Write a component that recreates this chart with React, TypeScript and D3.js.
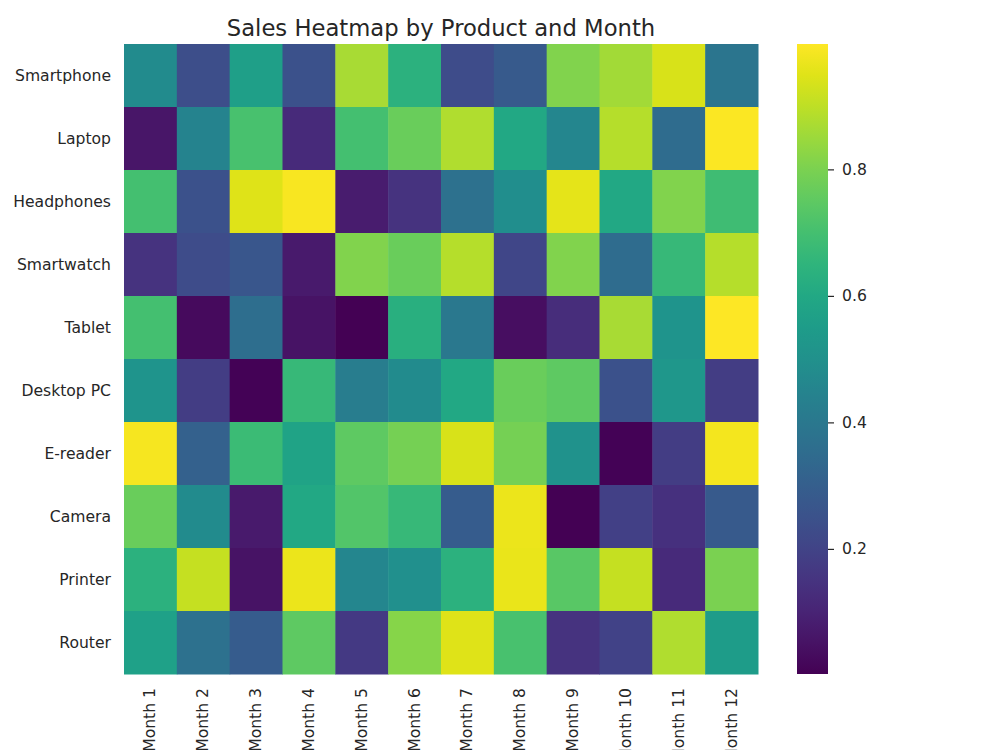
import React, { useEffect, useRef } from "react";
import * as d3 from "d3";

const products = [
  "Smartphone", "Laptop", "Headphones", "Smartwatch", "Tablet",
  "Desktop PC", "E-reader", "Camera", "Printer", "Router",
];
const months = [
  "Month 1", "Month 2", "Month 3", "Month 4", "Month 5", "Month 6",
  "Month 7", "Month 8", "Month 9", "Month 10", "Month 11", "Month 12",
];

// sales per product (rows), one value per month
const smartphone = [0.48, 0.24, 0.56, 0.25, 0.87, 0.64, 0.23, 0.28, 0.81, 0.86, 0.94, 0.39];
const laptop = [0.06, 0.45, 0.71, 0.12, 0.7, 0.77, 0.88, 0.6, 0.46, 0.89, 0.35, 0.995];
const headphones = [0.7, 0.25, 0.95, 0.99, 0.08, 0.15, 0.37, 0.49, 0.96, 0.6, 0.81, 0.69];
const smartwatch = [0.15, 0.23, 0.27, 0.07, 0.81, 0.77, 0.89, 0.21, 0.81, 0.35, 0.67, 0.89];
const tablet = [0.7, 0.03, 0.36, 0.05, 0.003, 0.63, 0.4, 0.04, 0.13, 0.87, 0.52, 0.999];
const desktopPC = [0.52, 0.18, 0.008, 0.67, 0.42, 0.48, 0.6, 0.77, 0.75, 0.25, 0.53, 0.18];
const eReader = [0.985, 0.31, 0.68, 0.58, 0.75, 0.79, 0.94, 0.79, 0.51, 0.01, 0.18, 0.98];
const camera = [0.77, 0.48, 0.07, 0.6, 0.73, 0.67, 0.29, 0.97, 0.005, 0.19, 0.14, 0.28];
const printer = [0.64, 0.91, 0.05, 0.97, 0.46, 0.5, 0.64, 0.965, 0.74, 0.91, 0.12, 0.8];
const router = [0.57, 0.37, 0.29, 0.75, 0.17, 0.82, 0.95, 0.71, 0.15, 0.2, 0.88, 0.55];

const rows = [smartphone, laptop, headphones, smartwatch, tablet, desktopPC, eReader, camera, printer, router];
const colorbarTicks = [0.2, 0.4, 0.6, 0.8];

const W = 1000;
const H = 750;
const FONT = "'DejaVu Sans', sans-serif";
const TXT = "#262626";

export default function App() {
  const svgRef = useRef<SVGSVGElement | null>(null);

  useEffect(() => {
    const svg = d3.select(svgRef.current);
    svg.selectAll("*").remove();

    const left = 124, right = 758, top = 44, bottom = 674;
    const x = d3.scaleBand<string>().domain(months).range([left, right]);
    const y = d3.scaleBand<string>().domain(products).range([top, bottom]);

    const all = rows.flat();
    const [vmin, vmax] = d3.extent(all) as [number, number];
    const color = d3.scaleSequential(d3.interpolateViridis).domain([vmin, vmax]);

    const cells = products.flatMap((p, i) =>
      months.map((m, j) => ({ p, m, v: rows[i][j] }))
    );

    svg.append("g")
      .selectAll("rect")
      .data(cells)
      .join("rect")
      .attr("x", (d) => x(d.m)!)
      .attr("y", (d) => y(d.p)!)
      .attr("width", x.bandwidth() + 0.5)
      .attr("height", y.bandwidth() + 0.5)
      .attr("fill", (d) => color(d.v));

    // title
    svg.append("text")
      .attr("x", (left + right) / 2)
      .attr("y", 36)
      .attr("text-anchor", "middle")
      .attr("font-family", FONT)
      .attr("font-size", 22.7)
      .attr("fill", TXT)
      .text("Sales Heatmap by Product and Month");

    // y labels
    svg.append("g")
      .selectAll("text")
      .data(products)
      .join("text")
      .attr("x", left - 13)
      .attr("y", (d) => y(d)! + y.bandwidth() / 2)
      .attr("text-anchor", "end")
      .attr("dominant-baseline", "central")
      .attr("font-family", FONT)
      .attr("font-size", 15.6)
      .attr("fill", TXT)
      .text((d) => d);

    // x labels, rotated
    svg.append("g")
      .selectAll("text")
      .data(months)
      .join("text")
      .attr("transform", (d) => `translate(${x(d)! + x.bandwidth() / 2},${bottom + 14}) rotate(-90)`)
      .attr("text-anchor", "end")
      .attr("dominant-baseline", "central")
      .attr("font-family", FONT)
      .attr("font-size", 15.6)
      .attr("fill", TXT)
      .text((d) => d);

    // colorbar
    const cbX = 797, cbW = 31;
    const cy = d3.scaleLinear().domain([vmin, vmax]).range([bottom, top]);
    const grad = svg.append("defs").append("linearGradient")
      .attr("id", "cbgrad")
      .attr("x1", 0).attr("y1", 1).attr("x2", 0).attr("y2", 0);
    d3.range(0, 1.0001, 0.05).forEach((t) => {
      grad.append("stop").attr("offset", t).attr("stop-color", d3.interpolateViridis(t));
    });
    svg.append("rect")
      .attr("x", cbX).attr("y", top)
      .attr("width", cbW).attr("height", bottom - top)
      .attr("fill", "url(#cbgrad)");

    const tk = svg.append("g");
    tk.selectAll("line")
      .data(colorbarTicks)
      .join("line")
      .attr("x1", cbX + cbW).attr("x2", cbX + cbW + 6)
      .attr("y1", (d) => cy(d)).attr("y2", (d) => cy(d))
      .attr("stroke", TXT).attr("stroke-width", 1.2);
    tk.selectAll("text")
      .data(colorbarTicks)
      .join("text")
      .attr("x", cbX + cbW + 14)
      .attr("y", (d) => cy(d))
      .attr("dominant-baseline", "central")
      .attr("font-family", FONT)
      .attr("font-size", 15.6)
      .attr("fill", TXT)
      .text((d) => d3.format(".1f")(d));
  }, []);

  return (
    <svg
      ref={svgRef}
      width={W}
      height={H}
      style={{ position: "absolute", left: 0, top: 0, background: "#fff" }}
    />
  );
}
